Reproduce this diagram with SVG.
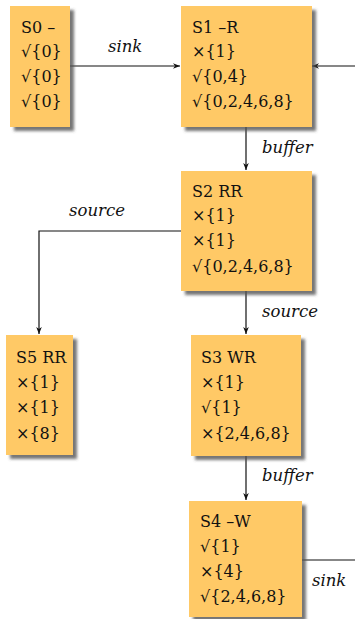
<svg xmlns="http://www.w3.org/2000/svg" width="355" height="619" viewBox="0 0 355 619">
  <style>
    .box { fill: #ffc966; filter: url(#shadow); }
    .t { font-family: "DejaVu Serif", "Liberation Serif", serif; font-size: 16px; fill: #111; }
    .lbl { font-family: "DejaVu Serif", "Liberation Serif", serif; font-size: 16.5px; font-style: italic; fill: #111; }
    .edge { fill: none; stroke: #111; stroke-width: 1.2; }
  </style>
  <defs>
    <filter id="shadow" x="-20%" y="-20%" width="150%" height="150%">
      <feDropShadow dx="4" dy="4" stdDeviation="1.5" flood-color="#555" flood-opacity="0.8"/>
    </filter>
    <marker id="arrow" viewBox="0 0 10 10" refX="10" refY="5" markerWidth="7" markerHeight="7" orient="auto" markerUnits="userSpaceOnUse">
      <path d="M0,1 L10,5 L0,9 L3,5 Z" fill="#111"/>
    </marker>
  </defs>

  <g id="connectors">
    <path class="edge" d="M70,66 H180" marker-end="url(#arrow)"/>
    <path class="edge" d="M355,66 H312" marker-end="url(#arrow)"/>
    <path class="edge" d="M246,127 V170" marker-end="url(#arrow)"/>
    <path class="edge" d="M181,231 H39 V334" marker-end="url(#arrow)"/>
    <path class="edge" d="M246,291 V334" marker-end="url(#arrow)"/>
    <path class="edge" d="M246,456 V500" marker-end="url(#arrow)"/>
    <path class="edge" d="M302,560 H355"/>
    <text class="lbl" x="108" y="52">sink</text>
    <text class="lbl" x="262" y="153">buffer</text>
    <text class="lbl" x="69" y="216">source</text>
    <text class="lbl" x="262" y="317">source</text>
    <text class="lbl" x="262" y="481">buffer</text>
    <text class="lbl" x="312" y="586">sink</text>
  </g>

  <g id="S0">
    <rect class="box" x="10" y="6" width="60" height="121"/>
    <text class="t" x="21" y="33">S0 –</text>
    <text class="t" x="21" y="57">√{0}</text>
    <text class="t" x="21" y="82">√{0}</text>
    <text class="t" x="21" y="107">√{0}</text>
  </g>

  <g id="S1">
    <rect class="box" x="181" y="6" width="131" height="121"/>
    <text class="t" x="192" y="33">S1 –R</text>
    <text class="t" x="192" y="57">×{1}</text>
    <text class="t" x="192" y="82">√{0,4}</text>
    <text class="t" x="192" y="107">√{0,2,4,6,8}</text>
  </g>

  <g id="S2">
    <rect class="box" x="181" y="171" width="131" height="120"/>
    <text class="t" x="192" y="197">S2 RR</text>
    <text class="t" x="192" y="221">×{1}</text>
    <text class="t" x="192" y="246">×{1}</text>
    <text class="t" x="192" y="272">√{0,2,4,6,8}</text>
  </g>

  <g id="S5">
    <rect class="box" x="6" y="335" width="67" height="120"/>
    <text class="t" x="16" y="363">S5 RR</text>
    <text class="t" x="16" y="388">×{1}</text>
    <text class="t" x="16" y="413">×{1}</text>
    <text class="t" x="16" y="439">×{8}</text>
  </g>

  <g id="S3">
    <rect class="box" x="191" y="335" width="110" height="121"/>
    <text class="t" x="201" y="363">S3 WR</text>
    <text class="t" x="201" y="388">×{1}</text>
    <text class="t" x="201" y="413">√{1}</text>
    <text class="t" x="201" y="439">×{2,4,6,8}</text>
  </g>

  <g id="S4">
    <rect class="box" x="189" y="501" width="113" height="116"/>
    <text class="t" x="200" y="527">S4 –W</text>
    <text class="t" x="200" y="552">√{1}</text>
    <text class="t" x="200" y="577">×{4}</text>
    <text class="t" x="200" y="602">√{2,4,6,8}</text>
  </g>
</svg>
